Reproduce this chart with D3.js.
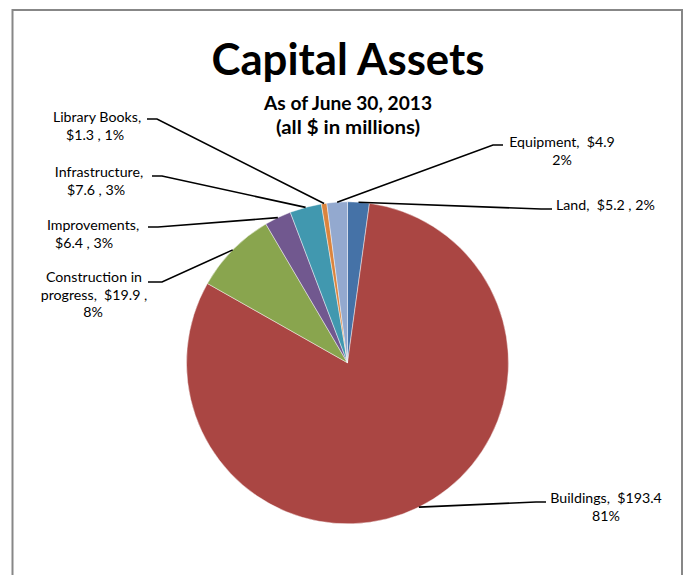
<!DOCTYPE html>
<html>
<head>
<meta charset="utf-8">
<script src="https://cdn.jsdelivr.net/npm/d3@7"></script>
<style>
  html, body { margin: 0; padding: 0; background: #fff; }
  svg { display: block; }
  text { font-family: Lato, "Open Sans", "Liberation Sans", sans-serif; fill: #000; white-space: pre; }
</style>
</head>
<body>
<svg id="chart" width="684" height="575"></svg>
<script>
// ---- data ----
const categories = ["Land", "Buildings", "Construction in progress", "Improvements", "Infrastructure", "Library Books", "Equipment"];
const values = [5.2, 193.4, 19.9, 6.4, 7.6, 1.3, 4.9];
const colors = ["#4572A7", "#AA4643", "#89A54E", "#71588F", "#4198AF", "#DB843D", "#93A9CF"];
const titleText = "Capital Assets";
const subtitleLines = ["As of June 30, 2013", "(all $ in millions)"];

// ---- layout ----
const W = 684, H = 575;
const cx = 347.5, cy = 362.8, R = 161;
const total = d3.sum(values);
const pct = d3.format(".0%");

// label text lines, built from the data
function labelLines(i) {
  const c = categories[i], v = "$" + values[i], p = pct(values[i] / total);
  switch (c) {
    case "Land": return [`${c},  ${v} , ${p}`];
    case "Buildings": return [`${c},  ${v}`, p];
    case "Equipment": return [`${c},  ${v}`, p];
    case "Construction in progress": return ["Construction in", `progress,  ${v} ,`, p];
    default: return [`${c},`, `${v} , ${p}`];
  }
}

// label placement (annotation layout)
const labelLayout = {
  "Land":                     { anchor: "start",  x: [556], y: 210, elbow: [541, 209], end: [552, 209] },
  "Buildings":                { anchor: "middle", x: [606, 606], y: 503, elbow: [536, 502], end: [546, 502] },
  "Equipment":                { anchor: "middle", x: [562, 562], y: 147, elbow: [493, 145], end: [503, 145] },
  "Construction in progress": { anchor: "middle", x: [94, 94, 93], y: 282, elbow: [162, 282], end: [148, 282] },
  "Improvements":             { anchor: "middle", x: [93, 84], y: 230, elbow: [158, 227], end: [148, 227] },
  "Infrastructure":           { anchor: "middle", x: [99, 96], y: 177, elbow: [162, 176], end: [152, 176] },
  "Library Books":            { anchor: "middle", x: [97, 95], y: 122, elbow: [157, 119], end: [147, 119] }
};
const lineH = 17.5;

const svg = d3.select("#chart");

// outer border (open at bottom, extends past the frame)
svg.append("path")
  .attr("d", `M12.5,${H + 5} L12.5,10 L682,10 L682,${H + 5}`)
  .attr("fill", "none")
  .attr("stroke", "#878787")
  .attr("stroke-width", 2);

// title
svg.append("text")
  .attr("x", 348).attr("y", 75)
  .attr("text-anchor", "middle")
  .attr("font-weight", "bold")
  .attr("font-size", 43)
  .attr("textLength", 273).attr("lengthAdjust", "spacingAndGlyphs")
  .text(titleText);

svg.selectAll("text.sub").data(subtitleLines).join("text")
  .attr("class", "sub")
  .attr("x", 348)
  .attr("y", (d, i) => 110 + i * 24)
  .attr("text-anchor", "middle")
  .attr("font-weight", "bold")
  .attr("font-size", 19)
  .attr("textLength", (d, i) => i === 0 ? 168 : 144)
  .attr("lengthAdjust", "spacingAndGlyphs")
  .text(d => d);

// pie
const pie = d3.pie().sort(null).value(d => d.value).startAngle(0).endAngle(2 * Math.PI);
const arcs = pie(categories.map((c, i) => ({ name: c, value: values[i], color: colors[i], idx: i })));
const arc = d3.arc().innerRadius(0).outerRadius(R);

const g = svg.append("g").attr("transform", `translate(${cx},${cy})`);
g.selectAll("path").data(arcs).join("path")
  .attr("d", arc)
  .attr("fill", d => d.data.color)
  .attr("stroke", "rgba(255,255,255,0.55)")
  .attr("stroke-width", 0.8);

// leader lines
arcs.forEach(a => {
  const L = labelLayout[a.data.name];
  const mid = (a.startAngle + a.endAngle) / 2;
  const px = cx + R * Math.sin(mid), py = cy - R * Math.cos(mid);
  svg.append("path")
    .attr("d", d3.line()([[px, py], L.elbow, L.end]))
    .attr("fill", "none")
    .attr("stroke", "#000")
    .attr("stroke-width", 1.6);
});

// labels
arcs.forEach(a => {
  const L = labelLayout[a.data.name];
  const lines = labelLines(a.data.idx);
  const t = svg.append("text")
    .attr("font-size", 14.2)
    .attr("text-anchor", L.anchor)
    .attr("xml:space", "preserve");
  lines.forEach((ln, k) => {
    t.append("tspan")
      .attr("x", L.x[k])
      .attr("y", L.y + k * lineH)
      .text(ln);
  });
});
</script>
</body>
</html>
